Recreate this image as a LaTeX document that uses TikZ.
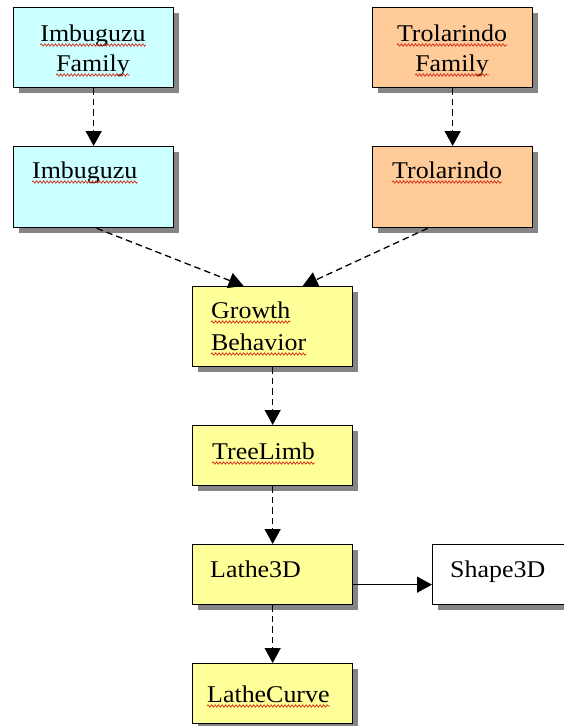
\documentclass[tikz,border=0pt]{standalone}
\usepackage{fontspec}
\setmainfont{Liberation Serif}[FakeStretch=1.08]
\usetikzlibrary{arrows.meta,calc,shadows,decorations.pathmorphing}
\definecolor{cyanfill}{HTML}{CCFFFF}
\definecolor{orangefill}{HTML}{FFCC99}
\definecolor{yellowfill}{HTML}{FFFF99}
\definecolor{squigred}{HTML}{D42A1A}
\tikzset{
  classbox/.style={draw=black, line width=1.3pt, rectangle, inner sep=0pt,
    anchor=north west, drop shadow={shadow xshift=5pt, shadow yshift=-5pt,
    fill=black!48, opacity=1}},
  word/.style={inner sep=0pt, font=\fontsize{24}{31}\selectfont},
  dep/.style={line width=1.3pt, dash pattern=on 6.5pt off 4pt,
    -{Triangle[width=16pt,length=15pt]}},
  uses/.style={line width=1.3pt, -{Triangle[width=16pt,length=15pt]}},
  squig/.style={draw=squigred, line width=0.7pt,
    decorate, decoration={snake, amplitude=1.2pt, segment length=3.5pt}}
}
\newcommand{\squiggle}[1]{\draw[squig] ($(#1.base west)+(0,4)$) -- ($(#1.base east)+(0,4)$);}
\begin{document}
\begin{tikzpicture}[x=1pt,y=-1pt]
\useasboundingbox (0,0) rectangle (564,726);

% class boxes
\node[classbox, fill=cyanfill, minimum width=160pt, minimum height=80pt] (imbfam) at (13,7) {};
\node[classbox, fill=orangefill, minimum width=160pt, minimum height=80pt] (trofam) at (372,7) {};
\node[classbox, fill=cyanfill, minimum width=160pt, minimum height=81pt] (imb) at (13,146) {};
\node[classbox, fill=orangefill, minimum width=160pt, minimum height=81pt] (tro) at (372,146) {};
\node[classbox, fill=yellowfill, minimum width=160pt, minimum height=80pt] (grow) at (192,286) {};
\node[classbox, fill=yellowfill, minimum width=160pt, minimum height=60pt] (tree) at (192,425) {};
\node[classbox, fill=yellowfill, minimum width=160pt, minimum height=60pt] (lathe) at (192,544) {};
\node[classbox, fill=white, minimum width=150pt, minimum height=60pt] (shape) at (432,544) {};
\node[classbox, fill=yellowfill, minimum width=160pt, minimum height=60pt] (curve) at (192,663) {};

% labels
\node[word, anchor=base] (t1a) at (93,41) {Imbuguzu};
\node[word, anchor=base] (t1b) at (93,71) {Family};
\node[word, anchor=base] (t2a) at (452,41) {Trolarindo};
\node[word, anchor=base] (t2b) at (452,71) {Family};
\node[word, anchor=base west] (t3) at (32,178) {Imbuguzu};
\node[word, anchor=base west] (t4) at (392,178) {Trolarindo};
\node[word, anchor=base west] (t5a) at (211,318) {Growth};
\node[word, anchor=base west] (t5b) at (211,350) {Behavior};
\node[word, anchor=base west] (t6) at (212,459) {TreeLimb};
\node[word, anchor=base west] (t7) at (210,577) {Lathe3D};
\node[word, anchor=base west] (t8) at (450,577) {Shape3D};
\node[word, anchor=base west] (t9) at (207,702) {LatheCurve};

% spell-check underlines
\squiggle{t1a} \squiggle{t1b} \squiggle{t2a} \squiggle{t2b}
\squiggle{t3} \squiggle{t4} \squiggle{t5a} \squiggle{t5b}
\squiggle{t6} \squiggle{t9}

% connectors
\draw[dep] (imbfam.south) -- (imb.north);
\draw[dep] (trofam.south) -- (tro.north);
\draw[dep] ($(imb.south)+(3,0)$) -- ($(grow.north)+(-29,0)$);
\draw[dep] ($(tro.south)+(-25,0)$) -- ($(grow.north)+(30,0)$);
\draw[dep] (grow.south) -- (tree.north);
\draw[dep] (tree.south) -- (lathe.north);
\draw[dep] (lathe.south) -- (curve.north);
\draw[uses] ($(lathe.east)+(0,10)$) -- ($(shape.west)+(0,10)$);
\end{tikzpicture}
\end{document}
